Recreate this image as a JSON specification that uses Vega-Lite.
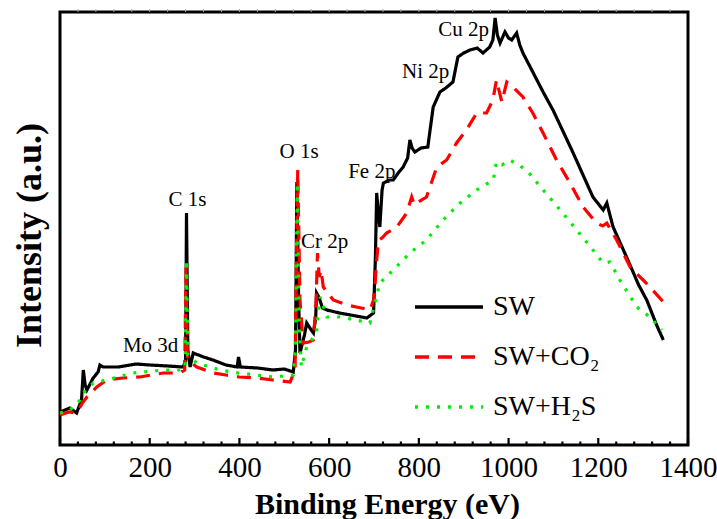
{
  "$schema": "https://vega.github.io/schema/vega-lite/v6.json",
  "width": 628,
  "height": 433,
  "autosize": "none",
  "padding": {"left": 60, "top": 12, "right": 29, "bottom": 74},
  "config": {
    "view": {"stroke": "black", "strokeWidth": 3},
    "font": "Liberation Serif, Times New Roman, serif"
  },
  "datasets": {
    "spectra": [
      {"s":"SW","x":0,"y":33},{"s":"SW","x":22,"y":37},{"s":"SW","x":37,"y":32},{"s":"SW","x":48,"y":45},{"s":"SW","x":52,"y":75},{"s":"SW","x":56,"y":60},{"s":"SW","x":60,"y":55},{"s":"SW","x":74,"y":67},{"s":"SW","x":85,"y":73},{"s":"SW","x":89,"y":80},{"s":"SW","x":96,"y":78},{"s":"SW","x":130,"y":78},{"s":"SW","x":170,"y":81},{"s":"SW","x":200,"y":80},{"s":"SW","x":240,"y":79},{"s":"SW","x":275,"y":78},{"s":"SW","x":280,"y":85},{"s":"SW","x":282,"y":232},{"s":"SW","x":285,"y":95},{"s":"SW","x":290,"y":78},{"s":"SW","x":297,"y":92},{"s":"SW","x":320,"y":88},{"s":"SW","x":341,"y":85},{"s":"SW","x":370,"y":80},{"s":"SW","x":395,"y":78},{"s":"SW","x":398,"y":88},{"s":"SW","x":402,"y":78},{"s":"SW","x":440,"y":77},{"s":"SW","x":475,"y":75},{"s":"SW","x":500,"y":76},{"s":"SW","x":520,"y":73},{"s":"SW","x":525,"y":95},{"s":"SW","x":528,"y":263},{"s":"SW","x":532,"y":145},{"s":"SW","x":535,"y":92},{"s":"SW","x":545,"y":110},{"s":"SW","x":550,"y":122},{"s":"SW","x":560,"y":115},{"s":"SW","x":565,"y":112},{"s":"SW","x":570,"y":127},{"s":"SW","x":572,"y":152},{"s":"SW","x":578,"y":147},{"s":"SW","x":585,"y":137},{"s":"SW","x":595,"y":135},{"s":"SW","x":623,"y":132},{"s":"SW","x":660,"y":129},{"s":"SW","x":684,"y":127},{"s":"SW","x":699,"y":132},{"s":"SW","x":703,"y":185},{"s":"SW","x":706,"y":252},{"s":"SW","x":710,"y":230},{"s":"SW","x":713,"y":218},{"s":"SW","x":718,"y":255},{"s":"SW","x":721,"y":262},{"s":"SW","x":735,"y":265},{"s":"SW","x":743,"y":265},{"s":"SW","x":754,"y":272},{"s":"SW","x":765,"y":278},{"s":"SW","x":775,"y":287},{"s":"SW","x":780,"y":305},{"s":"SW","x":785,"y":297},{"s":"SW","x":791,"y":293},{"s":"SW","x":805,"y":297},{"s":"SW","x":820,"y":298},{"s":"SW","x":825,"y":315},{"s":"SW","x":832,"y":338},{"s":"SW","x":847,"y":353},{"s":"SW","x":860,"y":357},{"s":"SW","x":876,"y":363},{"s":"SW","x":887,"y":388},{"s":"SW","x":900,"y":392},{"s":"SW","x":914,"y":395},{"s":"SW","x":930,"y":397},{"s":"SW","x":943,"y":392},{"s":"SW","x":958,"y":398},{"s":"SW","x":965,"y":405},{"s":"SW","x":970,"y":427},{"s":"SW","x":975,"y":410},{"s":"SW","x":981,"y":402},{"s":"SW","x":992,"y":413},{"s":"SW","x":1000,"y":407},{"s":"SW","x":1007,"y":405},{"s":"SW","x":1018,"y":412},{"s":"SW","x":1025,"y":400},{"s":"SW","x":1032,"y":392},{"s":"SW","x":1054,"y":373},{"s":"SW","x":1077,"y":353},{"s":"SW","x":1099,"y":335},{"s":"SW","x":1120,"y":315},{"s":"SW","x":1144,"y":292},{"s":"SW","x":1166,"y":270},{"s":"SW","x":1188,"y":248},{"s":"SW","x":1211,"y":235},{"s":"SW","x":1219,"y":242},{"s":"SW","x":1226,"y":230},{"s":"SW","x":1233,"y":218},{"s":"SW","x":1263,"y":188},{"s":"SW","x":1290,"y":160},{"s":"SW","x":1308,"y":145},{"s":"SW","x":1330,"y":120},{"s":"SW","x":1345,"y":105},
      {"s":"SW+CO₂","x":0,"y":30},{"s":"SW+CO₂","x":20,"y":33},{"s":"SW+CO₂","x":37,"y":32},{"s":"SW+CO₂","x":50,"y":42},{"s":"SW+CO₂","x":60,"y":48},{"s":"SW+CO₂","x":82,"y":58},{"s":"SW+CO₂","x":104,"y":65},{"s":"SW+CO₂","x":140,"y":67},{"s":"SW+CO₂","x":178,"y":68},{"s":"SW+CO₂","x":230,"y":72},{"s":"SW+CO₂","x":267,"y":72},{"s":"SW+CO₂","x":278,"y":75},{"s":"SW+CO₂","x":281,"y":178},{"s":"SW+CO₂","x":284,"y":85},{"s":"SW+CO₂","x":305,"y":78},{"s":"SW+CO₂","x":341,"y":72},{"s":"SW+CO₂","x":370,"y":70},{"s":"SW+CO₂","x":399,"y":68},{"s":"SW+CO₂","x":440,"y":67},{"s":"SW+CO₂","x":475,"y":65},{"s":"SW+CO₂","x":513,"y":63},{"s":"SW+CO₂","x":524,"y":75},{"s":"SW+CO₂","x":530,"y":275},{"s":"SW+CO₂","x":535,"y":145},{"s":"SW+CO₂","x":542,"y":102},{"s":"SW+CO₂","x":555,"y":103},{"s":"SW+CO₂","x":565,"y":105},{"s":"SW+CO₂","x":571,"y":145},{"s":"SW+CO₂","x":574,"y":192},{"s":"SW+CO₂","x":578,"y":168},{"s":"SW+CO₂","x":582,"y":175},{"s":"SW+CO₂","x":587,"y":158},{"s":"SW+CO₂","x":609,"y":145},{"s":"SW+CO₂","x":640,"y":140},{"s":"SW+CO₂","x":661,"y":138},{"s":"SW+CO₂","x":691,"y":135},{"s":"SW+CO₂","x":699,"y":145},{"s":"SW+CO₂","x":703,"y":165},{"s":"SW+CO₂","x":706,"y":185},{"s":"SW+CO₂","x":710,"y":205},{"s":"SW+CO₂","x":718,"y":207},{"s":"SW+CO₂","x":728,"y":212},{"s":"SW+CO₂","x":751,"y":218},{"s":"SW+CO₂","x":773,"y":232},{"s":"SW+CO₂","x":784,"y":248},{"s":"SW+CO₂","x":790,"y":240},{"s":"SW+CO₂","x":799,"y":243},{"s":"SW+CO₂","x":817,"y":248},{"s":"SW+CO₂","x":840,"y":278},{"s":"SW+CO₂","x":862,"y":285},{"s":"SW+CO₂","x":884,"y":302},{"s":"SW+CO₂","x":906,"y":315},{"s":"SW+CO₂","x":929,"y":332},{"s":"SW+CO₂","x":951,"y":332},{"s":"SW+CO₂","x":965,"y":345},{"s":"SW+CO₂","x":973,"y":365},{"s":"SW+CO₂","x":985,"y":343},{"s":"SW+CO₂","x":996,"y":363},{"s":"SW+CO₂","x":1010,"y":358},{"s":"SW+CO₂","x":1032,"y":348},{"s":"SW+CO₂","x":1054,"y":332},{"s":"SW+CO₂","x":1077,"y":312},{"s":"SW+CO₂","x":1107,"y":285},{"s":"SW+CO₂","x":1137,"y":262},{"s":"SW+CO₂","x":1166,"y":238},{"s":"SW+CO₂","x":1196,"y":222},{"s":"SW+CO₂","x":1210,"y":219},{"s":"SW+CO₂","x":1219,"y":222},{"s":"SW+CO₂","x":1241,"y":205},{"s":"SW+CO₂","x":1271,"y":178},{"s":"SW+CO₂","x":1300,"y":165},{"s":"SW+CO₂","x":1315,"y":158},{"s":"SW+CO₂","x":1345,"y":143},
      {"s":"SW+H₂S","x":0,"y":32},{"s":"SW+H₂S","x":20,"y":34},{"s":"SW+H₂S","x":45,"y":45},{"s":"SW+H₂S","x":52,"y":52},{"s":"SW+H₂S","x":74,"y":62},{"s":"SW+H₂S","x":104,"y":65},{"s":"SW+H₂S","x":163,"y":72},{"s":"SW+H₂S","x":230,"y":75},{"s":"SW+H₂S","x":267,"y":75},{"s":"SW+H₂S","x":279,"y":77},{"s":"SW+H₂S","x":282,"y":185},{"s":"SW+H₂S","x":285,"y":90},{"s":"SW+H₂S","x":305,"y":82},{"s":"SW+H₂S","x":357,"y":75},{"s":"SW+H₂S","x":399,"y":72},{"s":"SW+H₂S","x":475,"y":68},{"s":"SW+H₂S","x":520,"y":70},{"s":"SW+H₂S","x":525,"y":95},{"s":"SW+H₂S","x":529,"y":262},{"s":"SW+H₂S","x":533,"y":125},{"s":"SW+H₂S","x":538,"y":78},{"s":"SW+H₂S","x":550,"y":98},{"s":"SW+H₂S","x":572,"y":112},{"s":"SW+H₂S","x":576,"y":135},{"s":"SW+H₂S","x":580,"y":148},{"s":"SW+H₂S","x":586,"y":140},{"s":"SW+H₂S","x":595,"y":128},{"s":"SW+H₂S","x":624,"y":128},{"s":"SW+H₂S","x":660,"y":125},{"s":"SW+H₂S","x":691,"y":122},{"s":"SW+H₂S","x":702,"y":142},{"s":"SW+H₂S","x":713,"y":162},{"s":"SW+H₂S","x":743,"y":175},{"s":"SW+H₂S","x":780,"y":192},{"s":"SW+H₂S","x":817,"y":205},{"s":"SW+H₂S","x":854,"y":225},{"s":"SW+H₂S","x":892,"y":242},{"s":"SW+H₂S","x":929,"y":255},{"s":"SW+H₂S","x":966,"y":265},{"s":"SW+H₂S","x":973,"y":283},{"s":"SW+H₂S","x":985,"y":280},{"s":"SW+H₂S","x":1003,"y":285},{"s":"SW+H₂S","x":1040,"y":275},{"s":"SW+H₂S","x":1077,"y":255},{"s":"SW+H₂S","x":1115,"y":235},{"s":"SW+H₂S","x":1152,"y":215},{"s":"SW+H₂S","x":1188,"y":195},{"s":"SW+H₂S","x":1211,"y":182},{"s":"SW+H₂S","x":1226,"y":183},{"s":"SW+H₂S","x":1248,"y":165},{"s":"SW+H₂S","x":1286,"y":138},{"s":"SW+H₂S","x":1315,"y":128},{"s":"SW+H₂S","x":1342,"y":115}
    ],
    "peaks": [
      {"label":"Mo 3d","x":202,"y":99},
      {"label":"C 1s","x":284,"y":245},
      {"label":"O 1s","x":533,"y":293},
      {"label":"Cr 2p","x":590,"y":203},
      {"label":"Fe 2p","x":695,"y":273},
      {"label":"Ni 2p","x":815,"y":373},
      {"label":"Cu 2p","x":900,"y":415}
    ],
    "majorTicks": [{"v":0},{"v":200},{"v":400},{"v":600},{"v":800},{"v":1000},{"v":1200},{"v":1400}],
    "minorTicks": [{"v":40},{"v":80},{"v":120},{"v":160},{"v":240},{"v":280},{"v":320},{"v":360},{"v":440},{"v":480},{"v":520},{"v":560},{"v":640},{"v":680},{"v":720},{"v":760},{"v":840},{"v":880},{"v":920},{"v":960},{"v":1040},{"v":1080},{"v":1120},{"v":1160},{"v":1240},{"v":1280},{"v":1320},{"v":1360}],
    "topTicks": [{"v":40},{"v":80},{"v":120},{"v":160},{"v":200},{"v":240},{"v":280},{"v":320},{"v":360},{"v":400},{"v":440},{"v":480},{"v":520},{"v":560},{"v":600},{"v":640},{"v":680},{"v":720},{"v":760},{"v":800},{"v":840},{"v":880},{"v":920},{"v":960},{"v":1000},{"v":1040},{"v":1080},{"v":1120},{"v":1160},{"v":1200},{"v":1240},{"v":1280},{"v":1320},{"v":1360}]
  },
  "layer": [
    {
      "data": {"name": "spectra"},
      "mark": {"type": "line", "strokeWidth": 3.2, "clip": true},
      "encoding": {
        "x": {
          "field": "x", "type": "quantitative",
          "scale": {"domain": [0, 1400], "nice": false},
          "axis": {
            "orient": "bottom",
            "values": [0, 200, 400, 600, 800, 1000, 1200, 1400],
            "format": "d",
            "ticks": false,
            "domain": false,
            "grid": false,
            "labelFont": "Liberation Serif, Times New Roman, serif",
            "labelFontSize": 29,
            "labelColor": "black",
            "labelPadding": 8,
            "labelFlush": false,
            "labelOverlap": false,
            "title": "Binding Energy (eV)",
            "titleFont": "Liberation Serif, Times New Roman, serif",
            "titleFontSize": 30,
            "titleFontWeight": "bold",
            "titleColor": "black",
            "titlePadding": 7,
            "titleX": 327
          }
        },
        "y": {
          "field": "y", "type": "quantitative",
          "scale": {"domain": [0, 433], "nice": false},
          "axis": {
            "labels": false, "ticks": false, "domain": false, "grid": false,
            "title": "Intensity (a.u.)",
            "titleFont": "Liberation Serif, Times New Roman, serif",
            "titleFontSize": 36,
            "titleFontWeight": "bold",
            "titleColor": "black",
            "titlePadding": 12,
            "titleY": 223
          }
        },
        "color": {
          "field": "s", "type": "nominal",
          "scale": {"domain": ["SW", "SW+CO₂", "SW+H₂S"], "range": ["#000000", "#ff0000", "#00ee00"]},
          "legend": {
            "title": null,
            "orient": "none",
            "legendX": 353,
            "legendY": 259,
            "symbolType": "stroke",
            "symbolSize": 4624,
            "symbolStrokeWidth": 3.5,
            "labelFont": "Liberation Serif, Times New Roman, serif",
            "labelFontSize": 28,
            "labelColor": "black",
            "labelOffset": 8,
            "rowPadding": -24,
            "labelLimit": 300
          }
        },
        "strokeDash": {
          "field": "s", "type": "nominal",
          "scale": {"domain": ["SW", "SW+CO₂", "SW+H₂S"], "range": [[1, 0], [14, 9], [3, 8]]},
          "legend": {
            "title": null,
            "orient": "none",
            "legendX": 353,
            "legendY": 259,
            "symbolType": "stroke",
            "symbolSize": 4624,
            "symbolStrokeWidth": 3.5,
            "labelFont": "Liberation Serif, Times New Roman, serif",
            "labelFontSize": 28,
            "labelColor": "black",
            "labelOffset": 8,
            "rowPadding": -24,
            "labelLimit": 300
          }
        }
      }
    },
    {
      "data": {"name": "majorTicks"},
      "mark": {"type": "rule", "color": "black", "strokeWidth": 2.2},
      "encoding": {
        "x": {"field": "v", "type": "quantitative", "axis": null},
        "y": {"datum": 0},
        "y2": {"datum": 7}
      }
    },
    {
      "data": {"name": "minorTicks"},
      "mark": {"type": "rule", "color": "black", "strokeWidth": 2.2},
      "encoding": {
        "x": {"field": "v", "type": "quantitative", "axis": null},
        "y": {"datum": 0},
        "y2": {"datum": 3.5}
      }
    },
    {
      "data": {"name": "topTicks"},
      "mark": {"type": "rule", "color": "#aaaaaa", "strokeWidth": 1},
      "encoding": {
        "x": {"field": "v", "type": "quantitative", "axis": null},
        "y": {"datum": 433},
        "y2": {"datum": 436}
      }
    },
    {
      "data": {"name": "peaks"},
      "mark": {"type": "text", "font": "Liberation Serif, Times New Roman, serif", "fontSize": 21, "color": "black", "align": "center", "baseline": "middle"},
      "encoding": {
        "x": {"field": "x", "type": "quantitative", "axis": null},
        "y": {"field": "y", "type": "quantitative"},
        "text": {"field": "label"}
      }
    }
  ],
  "resolve": {"axis": {"x": "independent", "y": "shared"}}
}
